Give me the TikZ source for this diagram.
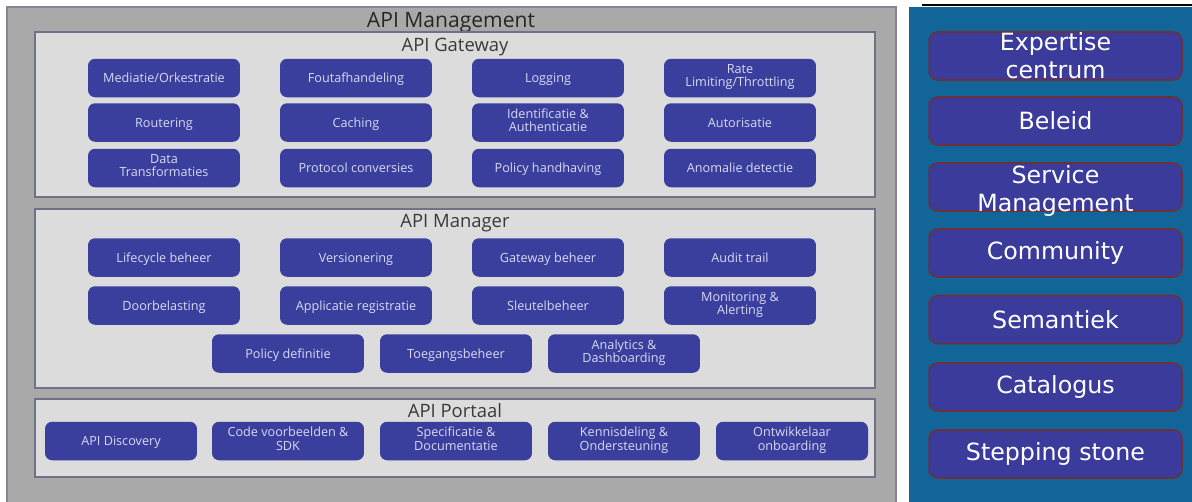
\documentclass[tikz,border=0pt]{standalone}
\usepackage{fontspec}
\setmainfont{Open Sans}
\newfontfamily\paneelfont{DejaVu Sans}

\definecolor{buitengrijs}{HTML}{A9A9A9}
\definecolor{buitenrand}{HTML}{858596}
\definecolor{laaggrijs}{HTML}{DCDCDC}
\definecolor{laagrand}{HTML}{6F7186}
\definecolor{blokblauw}{HTML}{3A3E9C}
\definecolor{bloktekst}{HTML}{D8DAF2}
\definecolor{titelgrijs}{HTML}{3A3A3A}
\definecolor{paneelblauw}{HTML}{116599}
\definecolor{paneelblok}{HTML}{3B3B9C}
\definecolor{paneelrand}{HTML}{6E3038}

\newcommand{\blokstut}{\rule[-2.6pt]{0pt}{10.4pt}}

\begin{document}
\begin{tikzpicture}[x=0.02cm,y=-0.02cm,
  blok/.style={fill=blokblauw, rounded corners=4pt, minimum width=3.04cm, minimum height=0.77cm,
    inner sep=1pt, align=center, text=bloktekst, font=\fontsize{7.2}{7.6}\selectfont,
    execute at begin node=\blokstut, execute at end node=\blokstut},
  laag/.style={fill=laaggrijs, draw=laagrand, line width=0.8pt},
  titel/.style={anchor=base, text=titelgrijs, font=\fontsize{10.5}{12}\selectfont},
  vak/.style={fill=paneelblok, draw=paneelrand, line width=0.9pt, rounded corners=5pt,
    minimum width=5.06cm, minimum height=0.96cm, inner sep=0pt},
  vaktekst/.style={text=white, align=center, font=\paneelfont\fontsize{13.5}{16}\selectfont}]

\useasboundingbox (0,0) rectangle (1192,501);

% API Management
\filldraw[fill=buitengrijs, draw=buitenrand, line width=0.8pt] (7,7) rectangle (896,504);
\node[titel, text=black!85, font=\fontsize{12}{14}\selectfont] (apim) at (451,27) {API Management};

% Gateway
\filldraw[laag] (35,32) rectangle (875,197);
\node[titel] (gwtitel) at (455,51) {API Gateway};
 \node[blok] (mediatie) at (164,78) {Mediatie/Orkestratie};
 \node[blok] (fout) at (356,78) {Foutafhandeling};
 \node[blok] (logging) at (548,78) {Logging};
 \node[blok] (rate) at (740,78) {Rate\\Limiting/Throttling};
 \node[blok] (routering) at (164,122.5) {Routering};
 \node[blok] (caching) at (356,122.5) {Caching};
 \node[blok] (identificatie) at (548,122.5) {Identificatie \&\\Authenticatie};
 \node[blok] (autorisatie) at (740,122.5) {Autorisatie};
 \node[blok] (data) at (164,168) {Data\\Transformaties};
 \node[blok] (protocol) at (356,168) {Protocol conversies};
 \node[blok] (policy) at (548,168) {Policy handhaving};
 \node[blok] (anomalie) at (740,168) {Anomalie detectie};

% Manager
\filldraw[laag] (35,209) rectangle (875,388);
\node[titel] (mgtitel) at (455,227) {API Manager};
 \node[blok] (lifecycle) at (164,257.5) {Lifecycle beheer};
 \node[blok] (versie) at (356,257.5) {Versionering};
 \node[blok] (gwbeheer) at (548,257.5) {Gateway beheer};
 \node[blok] (audit) at (740,257.5) {Audit trail};
 \node[blok] (doorbelasting) at (164,305.5) {Doorbelasting};
 \node[blok] (applicatie) at (356,305.5) {Applicatie registratie};
 \node[blok] (sleutel) at (548,305.5) {Sleutelbeheer};
 \node[blok] (monitoring) at (740,305.5) {Monitoring \&\\Alerting};
 \node[blok] (policydef) at (288,353.5) {Policy definitie};
 \node[blok] (toegang) at (456,353.5) {Toegangsbeheer};
 \node[blok] (analytics) at (624,353.5) {Analytics \&\\Dashboarding};

% Portaal
\filldraw[laag] (35,399) rectangle (875,477);
\node[titel] (pttitel) at (455,417) {API Portaal};
 \node[blok] (discovery) at (121,441) {API Discovery};
 \node[blok] (code) at (288,441) {Code voorbeelden \&\\SDK};
 \node[blok] (specificatie) at (456,441) {Specificatie \&\\Documentatie};
 \node[blok] (kennis) at (624,441) {Kennisdeling \&\\Ondersteuning};
 \node[blok] (onboarding) at (792,441) {Ontwikkelaar\\onboarding};

% rechter paneel
\fill[paneelblauw] (909,7) rectangle (1194,504);
\draw[line width=1.2pt] (922,5)--(1194,5);
 \node[vak] (expertise) at (1055.5,56) {};
 \node[vaktekst] (expertisetekst) at (expertise) {Expertise\\centrum};
 \node[vak, vaktekst] (beleid) at (1055.5,121) {Beleid};
 \node[vak] (service) at (1055.5,187) {};
 \node[vaktekst] (servicetekst) at ([yshift=-2pt]service.center) {Service\\Management};
 \node[vak, vaktekst] (community) at (1055.5,253) {Community};
 \node[vak, vaktekst] (semantiek) at (1055.5,319.5) {Semantiek};
 \node[vak, vaktekst] (catalogus) at (1055.5,387) {Catalogus};
 \node[vak, vaktekst] (stepping) at (1055.5,454) {Stepping stone};
\end{tikzpicture}
\end{document}
